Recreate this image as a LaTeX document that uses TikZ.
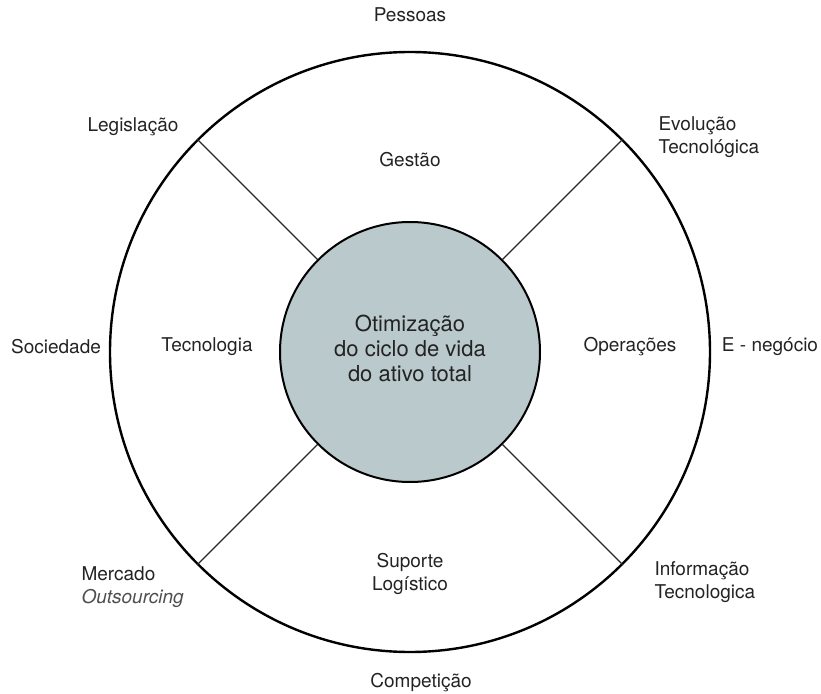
\documentclass[tikz,border=0pt]{standalone}
\usepackage{fontspec}
\setmainfont{TeX Gyre Heros}
\usetikzlibrary{positioning}
\definecolor{corefill}{RGB}{186,201,204}
\definecolor{inkgray}{RGB}{35,35,35}

\begin{document}
\begin{tikzpicture}[x=1pt,y=1pt,node distance=200pt,on grid,
	every node/.style={text=inkgray,font=\fontsize{19}{23}\selectfont},
	ring/.style={circle,draw=black,line width=2.4pt,minimum size=600pt,inner sep=0pt},
	core/.style={circle,draw=black,line width=2pt,fill=corefill,minimum size=260pt,inner sep=0pt},
	spoke/.style={draw=black!85,line width=1.1pt},
	force/.style={align=left}]
	\useasboundingbox (-410,-341) rectangle (411,352);
	\node[ring]           (R)                          {};
	\node[core]           (C)                          {};
	\node[align=center,font=\fontsize{22}{25}\selectfont] (goal) [above=4pt of C] {Otimização\\do ciclo de vida\\do ativo total};
	\foreach \a in {45,135,225,315}
		\draw[spoke] (C.\a) -- (R.\a);
	% sectors
	\node                 (gest) [above=192pt of C]    {Gestão};
	\node                 (tec)  [left=203pt of C, yshift=5pt]  {Tecnologia};
	\node                 (oper) [right=220pt of C, yshift=5pt] {Operações};
	\node[align=center]   (sup)  [below=222pt of C]    {Suporte\\Logístico};
	% outside
	\node                 (pess) [above=337pt of C]    {Pessoas};
	\node                 (comp) [below=331pt of C, xshift=11pt] {Competição};
	\node                 (soc)  [left=354pt of C, yshift=5pt]  {Sociedade};
	\node                 (eneg) [right=360pt of C, yshift=5pt] {E - negócio};
	\node                 (leg)  at (-277,225)         {Legislação};
	\node[force,anchor=west] (evol) at (245,215)        {Evolução\\Tecnológica};
	\node[force,anchor=west] (info) at (241,-230)       {Informação\\Tecnologica};
	\node[force,anchor=west] (merc) at (-332,-235)      {Mercado\\{\color{inkgray!80}\itshape Outsourcing}};
\end{tikzpicture}
\end{document}
